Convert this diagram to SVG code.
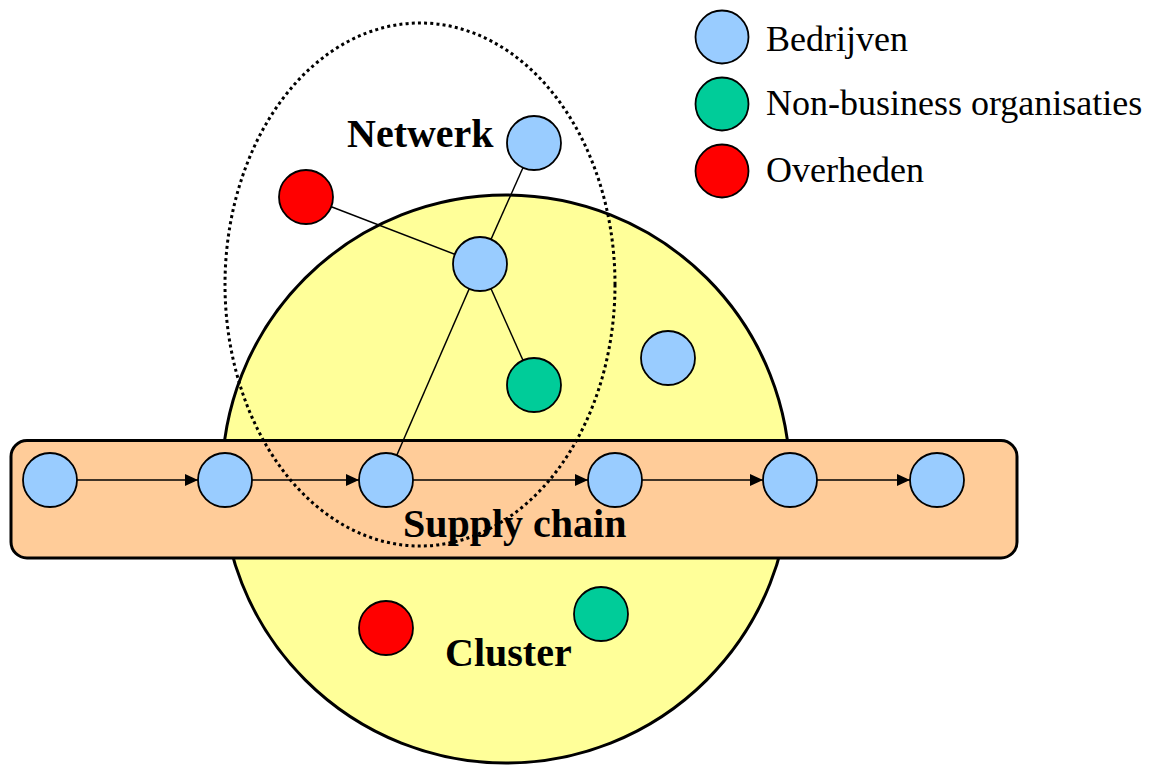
<svg xmlns="http://www.w3.org/2000/svg" width="1151" height="765" viewBox="0 0 1151 765">
  <style>
    .node { stroke: #000; stroke-width: 1.8; }
    .biz { fill: #99CCFF; }
    .nonbiz { fill: #00CC99; }
    .gov { fill: #FF0000; }
    .link { stroke: #000; stroke-width: 1.5; fill: none; }
    .flow { stroke: #000; stroke-width: 1.5; fill: none; marker-end: url(#arrow); }
    .title { font-family: "Liberation Serif", "Times New Roman", serif; font-weight: bold; font-size: 40px; fill: #000; }
    .legend { font-family: "Liberation Serif", "Times New Roman", serif; font-size: 36px; fill: #000; }
  </style>
  <defs>
    <marker id="arrow" markerUnits="userSpaceOnUse" markerWidth="14" markerHeight="14" refX="13" refY="6" orient="auto">
      <path d="M0,0 L13,6 L0,12 Z" fill="#000"/>
    </marker>
  </defs>

  <rect width="1151" height="765" fill="#fff"/>

  <!-- cluster area -->
  <g id="cluster">
    <circle cx="506" cy="479" r="284" fill="#FFFF99" stroke="#000" stroke-width="3"/>
  </g>

  <!-- supply chain band -->
  <g id="supply-chain">
    <rect x="11" y="440.5" width="1006" height="117.5" rx="16" ry="16" fill="#FFCC99" stroke="#000" stroke-width="3"/>
  </g>

  <!-- network boundary -->
  <g id="network">
    <ellipse cx="420" cy="284.5" rx="195" ry="261.5" fill="none" stroke="#000" stroke-width="3" stroke-dasharray="3 3.2"/>
  </g>

  <!-- connectors -->
  <g id="connectors">
    <line class="link" x1="306" y1="197" x2="480" y2="264"/>
    <line class="link" x1="534" y1="143" x2="480" y2="264"/>
    <line class="link" x1="480" y1="264" x2="534" y2="385"/>
    <line class="link" x1="480" y1="264" x2="386" y2="480"/>
    <line class="flow" x1="77" y1="480" x2="198" y2="480"/>
    <line class="flow" x1="252" y1="480" x2="359" y2="480"/>
    <line class="flow" x1="413" y1="480" x2="588" y2="480"/>
    <line class="flow" x1="642" y1="480" x2="763" y2="480"/>
    <line class="flow" x1="817" y1="480" x2="910" y2="480"/>
  </g>

  <!-- supply chain companies -->
  <g id="chain-1"><circle class="node biz" cx="50" cy="480" r="27"/></g>
  <g id="chain-2"><circle class="node biz" cx="225" cy="480" r="27"/></g>
  <g id="chain-3"><circle class="node biz" cx="386" cy="480" r="27"/></g>
  <g id="chain-4"><circle class="node biz" cx="615" cy="480" r="27"/></g>
  <g id="chain-5"><circle class="node biz" cx="790" cy="480" r="27"/></g>
  <g id="chain-6"><circle class="node biz" cx="937" cy="480" r="27"/></g>

  <!-- network members -->
  <g id="net-company-top"><circle class="node biz" cx="534" cy="143" r="27"/></g>
  <g id="net-government"><circle class="node gov" cx="306" cy="197" r="27"/></g>
  <g id="net-company-hub"><circle class="node biz" cx="480" cy="264" r="27"/></g>
  <g id="net-nonbusiness"><circle class="node nonbiz" cx="534" cy="385" r="27"/></g>

  <!-- other cluster members -->
  <g id="cluster-company"><circle class="node biz" cx="668" cy="358" r="27"/></g>
  <g id="cluster-government"><circle class="node gov" cx="386" cy="628" r="27"/></g>
  <g id="cluster-nonbusiness"><circle class="node nonbiz" cx="601" cy="614" r="27"/></g>

  <!-- area labels -->
  <g id="labels">
    <text class="title" x="347" y="147">Netwerk</text>
    <text class="title" x="403" y="537">Supply chain</text>
    <text class="title" x="445" y="666">Cluster</text>
  </g>

  <!-- legend -->
  <g id="legend">
    <g id="legend-bedrijven">
      <circle class="node biz" cx="722" cy="37" r="26.5"/>
      <text class="legend" x="766" y="51">Bedrijven</text>
    </g>
    <g id="legend-nonbusiness">
      <circle class="node nonbiz" cx="722" cy="104" r="26.5"/>
      <text class="legend" x="766" y="115">Non-business organisaties</text>
    </g>
    <g id="legend-overheden">
      <circle class="node gov" cx="722" cy="171" r="26.5"/>
      <text class="legend" x="766" y="182">Overheden</text>
    </g>
  </g>
</svg>
